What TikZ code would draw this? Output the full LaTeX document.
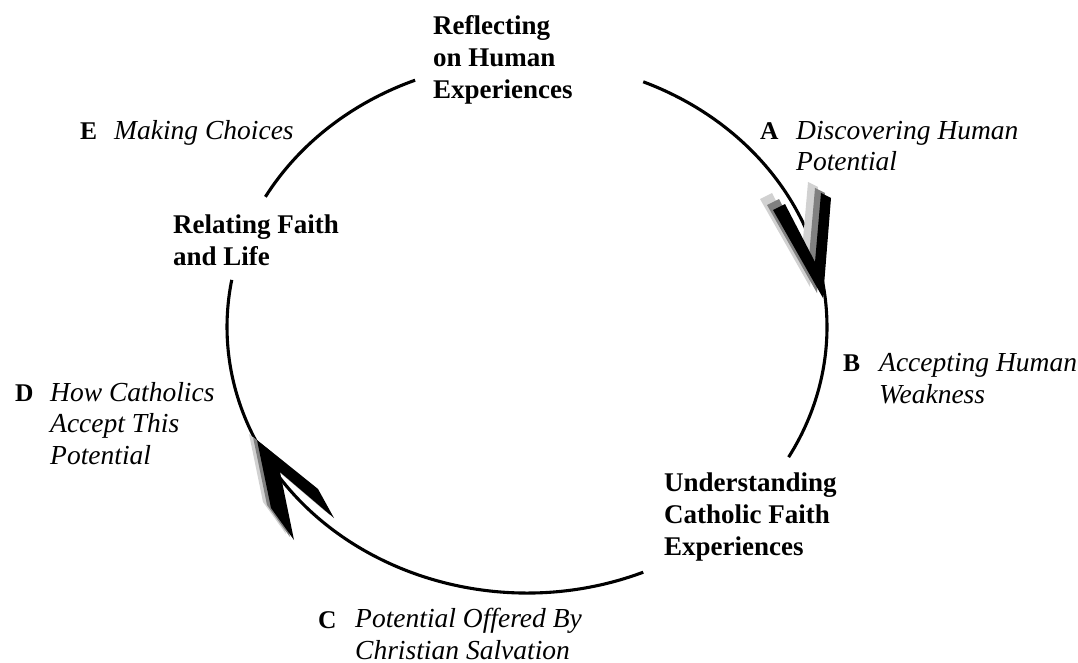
\documentclass[tikz,border=0pt]{standalone}
\usepackage{fontspec}
\setmainfont{Liberation Serif}
\usetikzlibrary{calc}
\tikzset{
  ring/.style={line width=3.1pt},
  title/.style={font=\bfseries\fontsize{27}{32}\selectfont, anchor=base west, inner sep=0pt, align=left},
  letter/.style={font=\bfseries\fontsize{25.5}{31}\selectfont, anchor=base west, inner sep=0pt},
  item/.style={font=\itshape\fontsize{27.5}{31.5}\selectfont, anchor=base west, inner sep=0pt, align=left},
  headblack/.style={fill=black},
  headmid/.style={fill=black!50},
  headlight/.style={fill=black!18},
}
\begin{document}
\begin{tikzpicture}[x=1pt,y=-1pt]
\useasboundingbox (0,0) rectangle (1078,663);
\coordinate (c) at (527,327);
% ring arcs
\coordinate (r1s) at ($(c)+(-67.2:300 and 266)$);
\coordinate (r2s) at ($(c)+(67.2:300 and 266)$);
\coordinate (r3s) at ($(c)+(209.3:300 and 266)$);
\draw[ring] (r1s) arc[start angle=-67.2, end angle=29.3, x radius=300, y radius=266] coordinate (r1e);
\draw[ring] (r2s) arc[start angle=67.2, end angle=190.2, x radius=300, y radius=266] coordinate (r2e);
\draw[ring] (r3s) arc[start angle=209.3, end angle=248.1, x radius=300, y radius=266] coordinate (r3e);
% arrowhead A (right side, pointing down)
\foreach \dx/\dy/\st in {-13/-11/headlight, -6/-5/headmid, 0/0/headblack}{
  \fill[\st, shift={(\dx,\dy)}] (773,210) -- (785,204) -- (815,262) -- (821,193) -- (831,198) -- (823,298) -- cycle;
}
% arrowhead D (left side, pointing up)
\foreach \dx/\dy/\st in {-8/-6/headlight, -4/-3/headmid, 0/0/headblack}{
  \fill[\st, shift={(\dx,\dy)}] (257,440) -- (318,489) -- (334,518) -- (280,472) -- (294,540) -- (271,508) -- cycle;
}
% titles (anchor = baseline of last line)
\node[title] (reflect) at (433,99) {Reflecting\\on Human\\Experiences};
\node[title] (relate) at (173,265) {Relating Faith\\and Life};
\node[title] (understand) at (664,555) {Understanding\\Catholic Faith\\Experiences};
% step labels
\node[letter] (lA) at (760,140) {A};
\node[item] (tA) at (796,171) {Discovering Human\\Potential};
\node[letter] (lB) at (843,371) {B};
\node[item] (tB) at (879,403) {Accepting Human\\Weakness};
\node[letter] (lC) at (318,628) {C};
\node[item] (tC) at (355,659) {Potential Offered By\\Christian Salvation};
\node[letter] (lD) at (15,401) {D};
\node[item] (tD) at (50,464) {How Catholics\\Accept This\\Potential};
\node[letter] (lE) at (80,140) {E};
\node[item] (tE) at (114,140) {Making Choices};
\end{tikzpicture}
\end{document}
